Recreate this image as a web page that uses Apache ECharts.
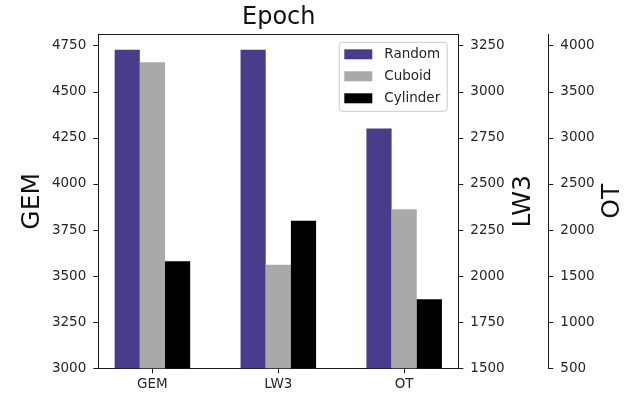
<!DOCTYPE html>
<html>
<head>
<meta charset="utf-8">
<script src="https://cdn.jsdelivr.net/npm/echarts@6/dist/echarts.min.js"></script>
<style>
  html, body { margin: 0; padding: 0; background: #fff; }
  #chart { width: 627px; height: 396px; }
</style>
</head>
<body>
<div id="chart"></div>
<script>
// ---- data ----
const categories = ['GEM', 'LW3', 'OT'];
const seriesNames = ['Random', 'Cuboid', 'Cylinder'];
const randomValues = [4728, 3228, 3102];
const cuboidValues = [4661, 2062, 2227];
const cylinderValues = [3581, 2301, 1249];
const gemTicks = [3000, 3250, 3500, 3750, 4000, 4250, 4500, 4750];
const lw3Ticks = [1500, 1750, 2000, 2250, 2500, 2750, 3000, 3250];
const otTicks = [500, 1000, 1500, 2000, 2500, 3000, 3500, 4000];
const gemRange = [3000, 4812];
const lw3Range = [1500, 3312];
const otRange = [500, 4124];

// ---- layout / style ----
const FONT = 'DejaVu Sans';
const colors = ['#483D8B', '#A9A9A9', '#000000'];
const grid = { left: 98.3, right: 168.7, top: 34.3, bottom: 27.7 };
const chartW = 627;
const plotW = chartW - grid.left - grid.right;
const xMin = -0.43, xMax = 2.43;
const barWidth = plotW * 0.2 / (xMax - xMin);

const valuesBySeries = [randomValues, cuboidValues, cylinderValues];
const ranges = [gemRange, lw3Range, otRange];
const ticks = [gemTicks, lw3Ticks, otTicks];

const axisColor = '#1a1a1a';
const labelColor = '#262626';

function makeXAxis(i) {
  const base = {
    type: 'value', gridIndex: 0, min: xMin, max: xMax,
    splitLine: { show: false }
  };
  if (i === 0) {
    return Object.assign(base, {
      position: 'bottom',
      axisLine: { show: true, onZero: false, lineStyle: { color: axisColor, width: 1 } },
      axisTick: { show: true, length: 5, lineStyle: { color: axisColor }, customValues: [0, 1, 2] },
      axisLabel: {
        show: true, margin: 9, customValues: [0, 1, 2],
        fontFamily: FONT, fontSize: 13.5, color: labelColor,
        formatter: v => categories[Math.round(v)]
      }
    });
  }
  if (i === 1) {
    return Object.assign(base, {
      position: 'top',
      axisLine: { show: true, onZero: false, lineStyle: { color: axisColor, width: 1 } },
      axisTick: { show: false },
      axisLabel: { show: false }
    });
  }
  return Object.assign(base, { show: false });
}

function makeYAxis(i) {
  const positions = ['left', 'right', 'right'];
  const offsets = [0, 0, 90];
  const nameGaps = [53, 53, 52];
  return {
    type: 'value', gridIndex: 0,
    position: positions[i], offset: offsets[i],
    min: ranges[i][0], max: ranges[i][1],
    name: categories[i], nameLocation: 'middle', nameGap: nameGaps[i],
    nameMoveOverlap: false,
    nameTextStyle: { fontFamily: FONT, fontSize: 25, color: '#111' },
    splitLine: { show: false },
    axisLine: { show: true, onZero: false, lineStyle: { color: axisColor, width: 1 } },
    axisTick: { show: true, length: 5, lineStyle: { color: axisColor }, customValues: ticks[i] },
    axisLabel: {
      show: true, margin: 12, customValues: ticks[i],
      fontFamily: FONT, fontSize: 13.5, color: labelColor,
      formatter: v => String(v)
    }
  };
}

const series = [];
for (let k = 0; k < categories.length; k++) {
  for (let s = 0; s < seriesNames.length; s++) {
    series.push({
      type: 'bar',
      name: seriesNames[s],
      xAxisIndex: k, yAxisIndex: k,
      data: [[k, valuesBySeries[s][k]]],
      barWidth: barWidth,
      barGap: 0,
      itemStyle: { color: colors[s] },
      emphasis: { disabled: true },
      animation: false
    });
  }
}

const chart = echarts.init(document.getElementById('chart'), null, { renderer: 'canvas' });
chart.setOption({
  animation: false,
  backgroundColor: '#ffffff',
  color: colors,
  title: {
    text: 'Epoch', left: 242, top: 6, padding: 0,
    textStyle: { fontFamily: FONT, fontSize: 24, fontWeight: 'normal', color: '#111' }
  },
  grid: Object.assign({ containLabel: false, outerBoundsMode: 'none' }, grid),
  legend: {
    data: seriesNames,
    orient: 'vertical',
    left: 339.3, top: 42.3,
    padding: [5, 7, 6, 5],
    itemWidth: 28, itemHeight: 10, itemGap: 8,
    icon: 'rect',
    borderColor: '#cccccc', borderWidth: 1, borderRadius: 3,
    backgroundColor: 'rgba(255,255,255,0.8)',
    textStyle: { fontFamily: FONT, fontSize: 13.5, color: labelColor, padding: [0, 0, 0, 7] }
  },
  xAxis: [0, 1, 2].map(makeXAxis),
  yAxis: [0, 1, 2].map(makeYAxis),
  series: series
});
</script>
</body>
</html>
